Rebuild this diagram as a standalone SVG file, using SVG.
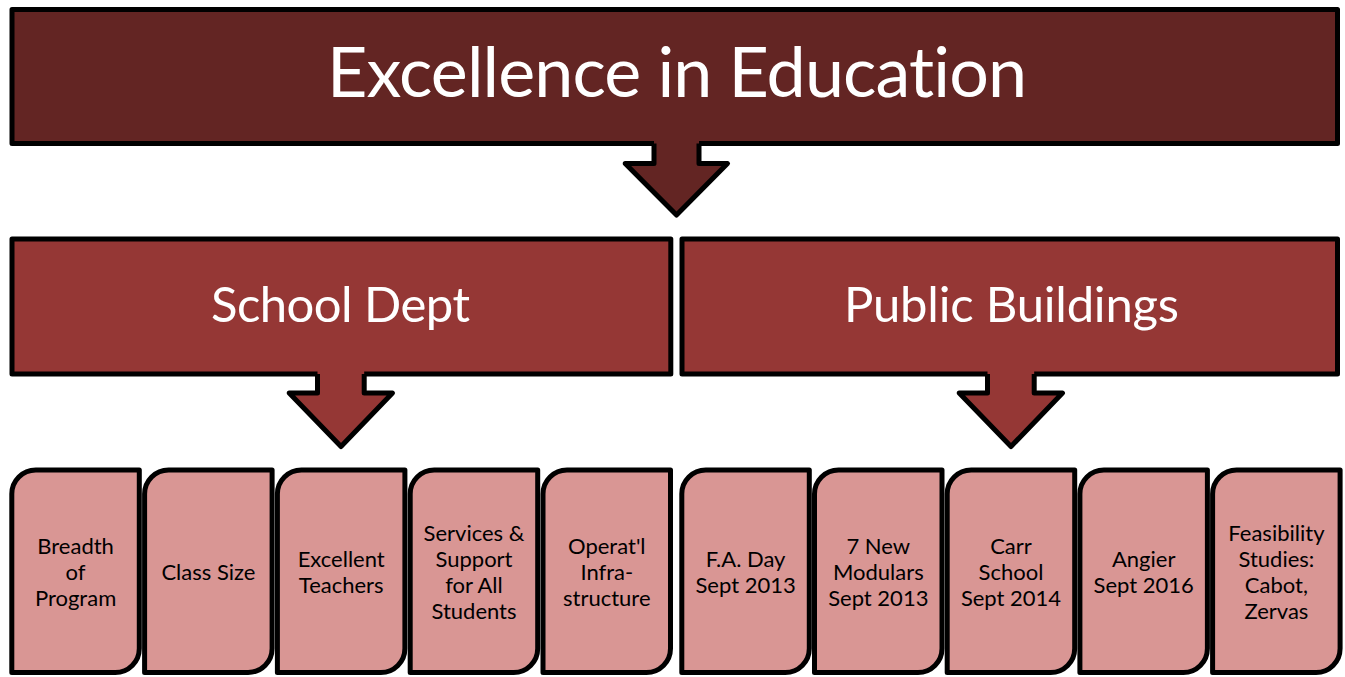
<svg xmlns="http://www.w3.org/2000/svg" width="1345" height="677" viewBox="0 0 1345 677">
<style>
.stk{stroke:#000;stroke-width:5;stroke-linejoin:round}
.top{fill:#632523}
.mid{fill:#953735}
.box{fill:#D99694}
.t{font-family:Lato,"Open Sans","Noto Sans",sans-serif;text-anchor:middle;font-variant-ligatures:none;font-feature-settings:"liga" 0,"clig" 0}
.tw{fill:#fff}
.tb{fill:#000;font-size:22px}
</style>
<defs>
<path id="bx" d="M0,24 A24,24 0 0 1 24,0 H127.5 V178.5 A24,24 0 0 1 103.5,202.5 H0 Z"/>
</defs>
<rect width="1345" height="677" fill="#fff"/>
<g id="excellence">
<rect class="top stk" x="12" y="9.5" width="1325.5" height="134"/>
<text class="t tw" x="677" y="97" font-size="70" textLength="700">Excellence in Education</text>
</g>
<g id="school-dept">
<rect class="mid stk" x="12" y="239" width="658.8" height="135"/>
<text class="t tw" x="340.5" y="322" font-size="49" textLength="259">School Dept</text>
</g>
<g id="public-buildings">
<rect class="mid stk" x="682" y="239" width="655.5" height="135"/>
<text class="t tw" x="1011.5" y="322" font-size="49" textLength="335">Public Buildings</text>
</g>
<g id="connectors">
<polygon class="top" points="654,139 699,139 699,163.5 727.5,163.5 676.5,215 625.2,163.5 654,163.5"/>
<polyline class="stk" fill="none" points="654,143.5 654,163.5 625.2,163.5 676.5,215 727.5,163.5 699,163.5 699,143.5"/>
<polygon class="mid" points="317.5,370 364.2,370 364.2,393 392.5,393 341,446.5 289.2,393 317.5,393"/>
<polyline class="stk" fill="none" points="317.5,374 317.5,393 289.2,393 341,446.5 392.5,393 364.2,393 364.2,374"/>
<polygon class="mid" points="987.5,370 1034.2,370 1034.2,393 1062.5,393 1011,446.5 959.2,393 987.5,393"/>
<polyline class="stk" fill="none" points="987.5,374 987.5,393 959.2,393 1011,446.5 1062.5,393 1034.2,393 1034.2,374"/>
</g>
<g id="breadth"><use href="#bx" class="box stk" x="11.8" y="470"/>
<text class="t tb" x="75.6" y="554">Breadth</text><text class="t tb" x="75.6" y="580">of</text><text class="t tb" x="75.6" y="606">Program</text></g>
<g id="class-size"><use href="#bx" class="box stk" x="144.6" y="470"/>
<text class="t tb" x="208.4" y="580">Class Size</text></g>
<g id="excellent-teachers"><use href="#bx" class="box stk" x="277.4" y="470"/>
<text class="t tb" x="341.2" y="567">Excellent</text><text class="t tb" x="341.2" y="593">Teachers</text></g>
<g id="services"><use href="#bx" class="box stk" x="410.2" y="470"/>
<text class="t tb" x="474" y="541">Services &amp;</text><text class="t tb" x="474" y="567">Support</text><text class="t tb" x="474" y="593">for All</text><text class="t tb" x="474" y="619">Students</text></g>
<g id="operatl"><use href="#bx" class="box stk" x="543" y="470"/>
<text class="t tb" x="606.8" y="554">Operat'l</text><text class="t tb" x="606.8" y="580">Infra-</text><text class="t tb" x="606.8" y="606">structure</text></g>
<g id="fa-day"><use href="#bx" class="box stk" x="681.8" y="470"/>
<text class="t tb" x="745.6" y="567">F.A. Day</text><text class="t tb" x="745.6" y="593">Sept 2013</text></g>
<g id="modulars"><use href="#bx" class="box stk" x="814.5" y="470"/>
<text class="t tb" x="878.3" y="554">7 New</text><text class="t tb" x="878.3" y="580">Modulars</text><text class="t tb" x="878.3" y="606">Sept 2013</text></g>
<g id="carr"><use href="#bx" class="box stk" x="947.2" y="470"/>
<text class="t tb" x="1011" y="554">Carr</text><text class="t tb" x="1011" y="580">School</text><text class="t tb" x="1011" y="606">Sept 2014</text></g>
<g id="angier"><use href="#bx" class="box stk" x="1079.9" y="470"/>
<text class="t tb" x="1143.7" y="567">Angier</text><text class="t tb" x="1143.7" y="593">Sept 2016</text></g>
<g id="feasibility"><use href="#bx" class="box stk" x="1212.6" y="470"/>
<text class="t tb" x="1276.4" y="541">Feasibility</text><text class="t tb" x="1276.4" y="567">Studies:</text><text class="t tb" x="1276.4" y="593">Cabot,</text><text class="t tb" x="1276.4" y="619">Zervas</text></g>
</svg>
